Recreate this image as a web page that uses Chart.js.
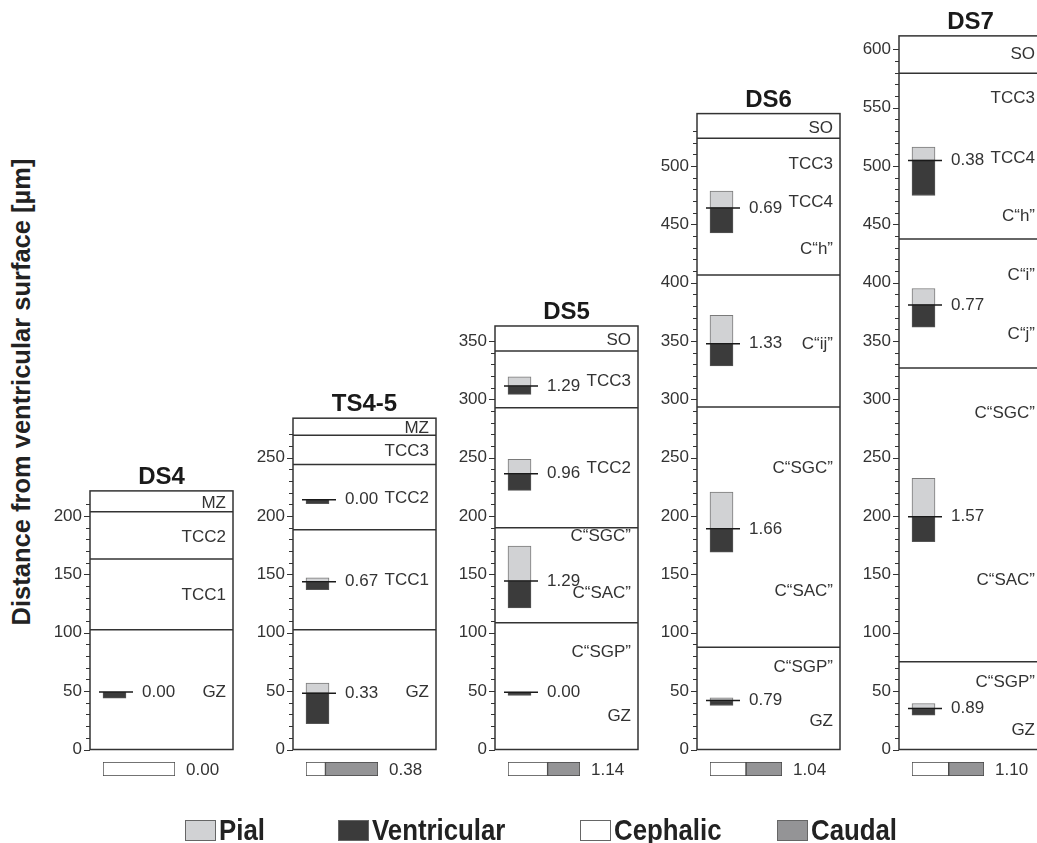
<!DOCTYPE html>
<html>
<head>
<meta charset="utf-8">
<script src="https://cdn.jsdelivr.net/npm/chart.js@4.4.0/dist/chart.umd.min.js"></script>
<style>
	html, body { margin: 0; padding: 0; background: #fff; }
	body { position: relative; width: 1037px; height: 843px; overflow: hidden; font-family: "Liberation Sans", Arial, sans-serif; }
	canvas { position: absolute; }
	#ytitle { position: absolute; left: 21px; top: 392px; transform: translate(-50%, -50%) rotate(-90deg); white-space: nowrap; font: bold 25.5px "Liberation Sans", Arial, sans-serif; color: #222; }
	.sw { position: absolute; top: 820px; width: 29px; height: 19px; border: 1px solid #666; }
	.lt { position: absolute; top: 813px; font: bold 30px "Liberation Sans", Arial, sans-serif; color: #222; transform: scaleX(0.86); transform-origin: left center; white-space: nowrap; }
</style>
</head>
<body>
<div id="ytitle">Distance from ventricular surface [µm]</div>
<script>
// panels, left to right
const panels = [ 'DS4', 'TS4-5', 'DS5', 'DS6', 'DS7' ];
const panelTop = [ 221.6, 283.9, 362.9, 544.9, 611.5 ];

// zone boundaries (µm) and zone names with the height they are written at
const zoneBounds = [
	[ 203.7, 163.2, 102.6 ],
	[ 269.3, 244.3, 188.2, 102.6 ],
	[ 341.4, 292.9, 190, 108.6 ],
	[ 523.7, 406.6, 293.4, 87.7 ],
	[ 579.4, 437.4, 327, 75.1 ],
];
const zoneNames = [
	[ 'MZ', 'TCC2', 'TCC1', 'GZ' ],
	[ 'MZ', 'TCC3', 'TCC2', 'TCC1', 'GZ' ],
	[ 'SO', 'TCC3', 'TCC2', 'C“SGC”', 'C“SAC”', 'C“SGP”', 'GZ' ],
	[ 'SO', 'TCC3', 'TCC4', 'C“h”', 'C“ij”', 'C“SGC”', 'C“SAC”', 'C“SGP”', 'GZ' ],
	[ 'SO', 'TCC3', 'TCC4', 'C“h”', 'C“i”', 'C“j”', 'C“SGC”', 'C“SAC”', 'C“SGP”', 'GZ' ],
];
const zoneNameAt = [
	[ 211, 182, 132.5, 49.3 ],
	[ 275, 255.7, 215, 145, 48.9 ],
	[ 351, 315.7, 241, 183, 134, 83, 28.6 ],
	[ 532, 501.4, 468.6, 428.6, 347, 240.6, 135.7, 70, 24.3 ],
	[ 596, 557.8, 507, 456.6, 406.7, 356, 288, 145, 58, 16.6 ],
];

// cell positions: mean, pial extent, ventricular extent, pial/ventricular ratio
const barMid = [
	[ 49.3 ],
	[ 214.1, 143.7, 48.3 ],
	[ 311.4, 236.3, 144.3, 49.1 ],
	[ 464, 347.7, 189.1, 42 ],
	[ 504.8, 380.9, 199.4, 35.1 ],
];
const pialTop = [
	[ 49.3 ],
	[ 214.1, 147.1, 56.9 ],
	[ 319.4, 248.6, 174.3, 49.1 ],
	[ 478.6, 372, 220.6, 44.3 ],
	[ 516.3, 395, 232.3, 39.4 ],
];
const ventBottom = [
	[ 43.9 ],
	[ 210.6, 137, 22.1 ],
	[ 304.3, 222, 121.4, 46.3 ],
	[ 442.6, 328.6, 169.1, 37.7 ],
	[ 474.7, 362, 178, 29.4 ],
];
const ratioText = [
	[ '0.00' ],
	[ '0.00', '0.67', '0.33' ],
	[ '1.29', '0.96', '1.29', '0.00' ],
	[ '0.69', '1.33', '1.66', '0.79' ],
	[ '0.38', '0.77', '1.57', '0.89' ],
];

// cephalic / caudal split (%) and its ratio
const cephalic = [ 100, 27, 55, 50, 51 ];
const caudal = [ 0, 73, 45, 50, 49 ];
const ccText = [ '0.00', '0.38', '1.14', '1.04', '1.10' ];

const legendNames = [ 'Pial', 'Ventricular', 'Cephalic', 'Caudal' ];

// layout
const PX = 1.167, ZERO_Y = 749.5, AXIS_W = 50, BOX_W = 143, CANVAS_H = 776;
const BOX_LEFT = [ 90, 293, 495, 697, 899 ];
const BAR_X = 24.5, MID_LINE = [ 9, 43 ], VALUE_X = 52;
const COL = { pial: '#d1d2d4', vent: '#3b3b3b', ceph: '#ffffff', caud: '#949496', ink: '#333' };
const FONT = '"Liberation Sans", Arial, sans-serif';

const panelPlugin = {
	id: 'panel',
	afterDatasetsDraw( chart ) {
		const { ctx, chartArea: a, scales: { x, y } } = chart;
		const i = chart.options.plugins.panel.index;
		ctx.save();
		// frame
		ctx.strokeStyle = COL.ink;
		ctx.lineWidth = 1.5;
		ctx.strokeRect( a.left, a.top, a.right - a.left, a.bottom - a.top );
		// major / minor ticks
		ctx.lineWidth = 1;
		y.ticks.forEach( ( t ) => {
			if ( t.value % 10 !== 0 ) return;
			const py = Math.round( y.getPixelForValue( t.value ) ) + 0.5;
			const len = t.value % 50 === 0 ? 6 : 4;
			ctx.beginPath();
			ctx.moveTo( a.left - len, py );
			ctx.lineTo( a.left, py );
			ctx.stroke();
		} );
		// zone names
		ctx.fillStyle = COL.ink;
		ctx.font = `17px ${ FONT }`;
		ctx.textBaseline = 'middle';
		ctx.textAlign = 'right';
		zoneNames[ i ].forEach( ( n, k ) => ctx.fillText( n, a.right - 7, y.getPixelForValue( zoneNameAt[ i ][ k ] ) ) );
		// ratio values
		ctx.textAlign = 'left';
		ratioText[ i ].forEach( ( r, k ) => ctx.fillText( r, x.getPixelForValue( VALUE_X ), y.getPixelForValue( barMid[ i ][ k ] ) ) );
		// title
		ctx.fillStyle = '#1a1a1a';
		ctx.font = `bold 24px ${ FONT }`;
		ctx.textAlign = 'center';
		ctx.textBaseline = 'alphabetic';
		ctx.fillText( panels[ i ], ( a.left + a.right ) / 2, a.top - 7 );
		ctx.restore();
	},
};

panels.forEach( ( name, i ) => {
	const w = AXIS_W + BOX_W + 2;
	const cv = document.createElement( 'canvas' );
	cv.width = w;
	cv.height = CANVAS_H;
	cv.style.left = ( BOX_LEFT[ i ] - AXIS_W ) + 'px';
	cv.style.top = '0px';
	document.body.appendChild( cv );

	const datasets = [];
	zoneBounds[ i ].forEach( ( b ) => datasets.push( {
		type: 'line',
		data: [ { x: 0, y: b }, { x: BOX_W, y: b } ],
		borderColor: COL.ink,
		borderWidth: 1.5,
		pointRadius: 0,
		order: 3,
	} ) );
	datasets.push( {
		type: 'bar',
		stack: 'cell',
		data: barMid[ i ].map( ( m, k ) => ( { x: BAR_X, y: [ m, pialTop[ i ][ k ] ] } ) ),
		backgroundColor: COL.pial,
		borderColor: '#7a7a7a',
		borderWidth: 1,
		borderSkipped: false,
		barThickness: 23,
		order: 2,
	} );
	datasets.push( {
		type: 'bar',
		stack: 'cell',
		data: barMid[ i ].map( ( m, k ) => ( { x: BAR_X, y: [ ventBottom[ i ][ k ], m ] } ) ),
		backgroundColor: COL.vent,
		borderColor: '#555',
		borderWidth: 1,
		borderSkipped: false,
		barThickness: 23,
		order: 2,
	} );
	barMid[ i ].forEach( ( m ) => datasets.push( {
		type: 'line',
		data: [ { x: MID_LINE[ 0 ], y: m }, { x: MID_LINE[ 1 ], y: m } ],
		borderColor: '#1a1a1a',
		borderWidth: 1.5,
		pointRadius: 0,
		order: 1,
	} ) );

	new Chart( cv, {
		type: 'bar',
		data: { datasets },
		plugins: [ panelPlugin ],
		options: {
			responsive: false,
			animation: false,
			events: [],
			layout: { padding: { top: ZERO_Y - panelTop[ i ] * PX, bottom: CANVAS_H - ZERO_Y, left: 0, right: 2 } },
			plugins: { legend: { display: false }, tooltip: { enabled: false }, panel: { index: i } },
			scales: {
				x: { type: 'linear', min: 0, max: BOX_W, offset: false, display: false },
				y: {
					type: 'linear',
					min: 0,
					max: panelTop[ i ],
					stacked: false,
					afterFit: ( s ) => { s.width = AXIS_W; },
					grid: { display: false, drawTicks: false },
					border: { display: false },
					ticks: {
						stepSize: 10,
						padding: 8,
						color: COL.ink,
						font: { family: FONT, size: 17 },
						autoSkip: false,
						callback: ( v ) => ( v % 50 === 0 ? v : '' ),
					},
				},
			},
		},
	} );

	// cephalic / caudal bar under the panel
	const cc = document.createElement( 'canvas' );
	cc.width = 125;
	cc.height = 16;
	cc.style.left = ( BOX_LEFT[ i ] + 12 ) + 'px';
	cc.style.top = '761px';
	document.body.appendChild( cc );
	new Chart( cc, {
		type: 'bar',
		data: {
			labels: [ name ],
			datasets: [
				{ data: [ cephalic[ i ] ], backgroundColor: COL.ceph, borderColor: '#444', borderWidth: 1, borderSkipped: false },
				{ data: [ caudal[ i ] ], backgroundColor: COL.caud, borderColor: '#444', borderWidth: 1, borderSkipped: false },
			],
		},
		plugins: [ {
			id: 'ccLabel',
			afterDraw( chart ) {
				const { ctx, chartArea: a } = chart;
				ctx.save();
				ctx.fillStyle = COL.ink;
				ctx.font = `17px ${ FONT }`;
				ctx.textBaseline = 'middle';
				ctx.fillText( ccText[ i ], a.right + 11, ( a.top + a.bottom ) / 2 + 1 );
				ctx.restore();
			},
		} ],
		options: {
			indexAxis: 'y',
			responsive: false,
			animation: false,
			events: [],
			barPercentage: 1,
			categoryPercentage: 1,
			layout: { padding: { left: 1, right: 52, top: 1, bottom: 1 } },
			plugins: { legend: { display: false }, tooltip: { enabled: false } },
			scales: {
				x: { stacked: true, min: 0, max: 100, display: false },
				y: { stacked: true, display: false },
			},
		},
	} );
} );

// legend row
const legendColors = [ COL.pial, COL.vent, COL.ceph, COL.caud ];
const legendLeft = [ 185, 338, 580, 777 ];
legendNames.forEach( ( n, k ) => {
	const sw = document.createElement( 'div' );
	sw.className = 'sw';
	sw.style.left = legendLeft[ k ] + 'px';
	sw.style.background = legendColors[ k ];
	document.body.appendChild( sw );
	const t = document.createElement( 'div' );
	t.className = 'lt';
	t.style.left = ( legendLeft[ k ] + 34 ) + 'px';
	t.textContent = n;
	document.body.appendChild( t );
} );
</script>
</body>
</html>
